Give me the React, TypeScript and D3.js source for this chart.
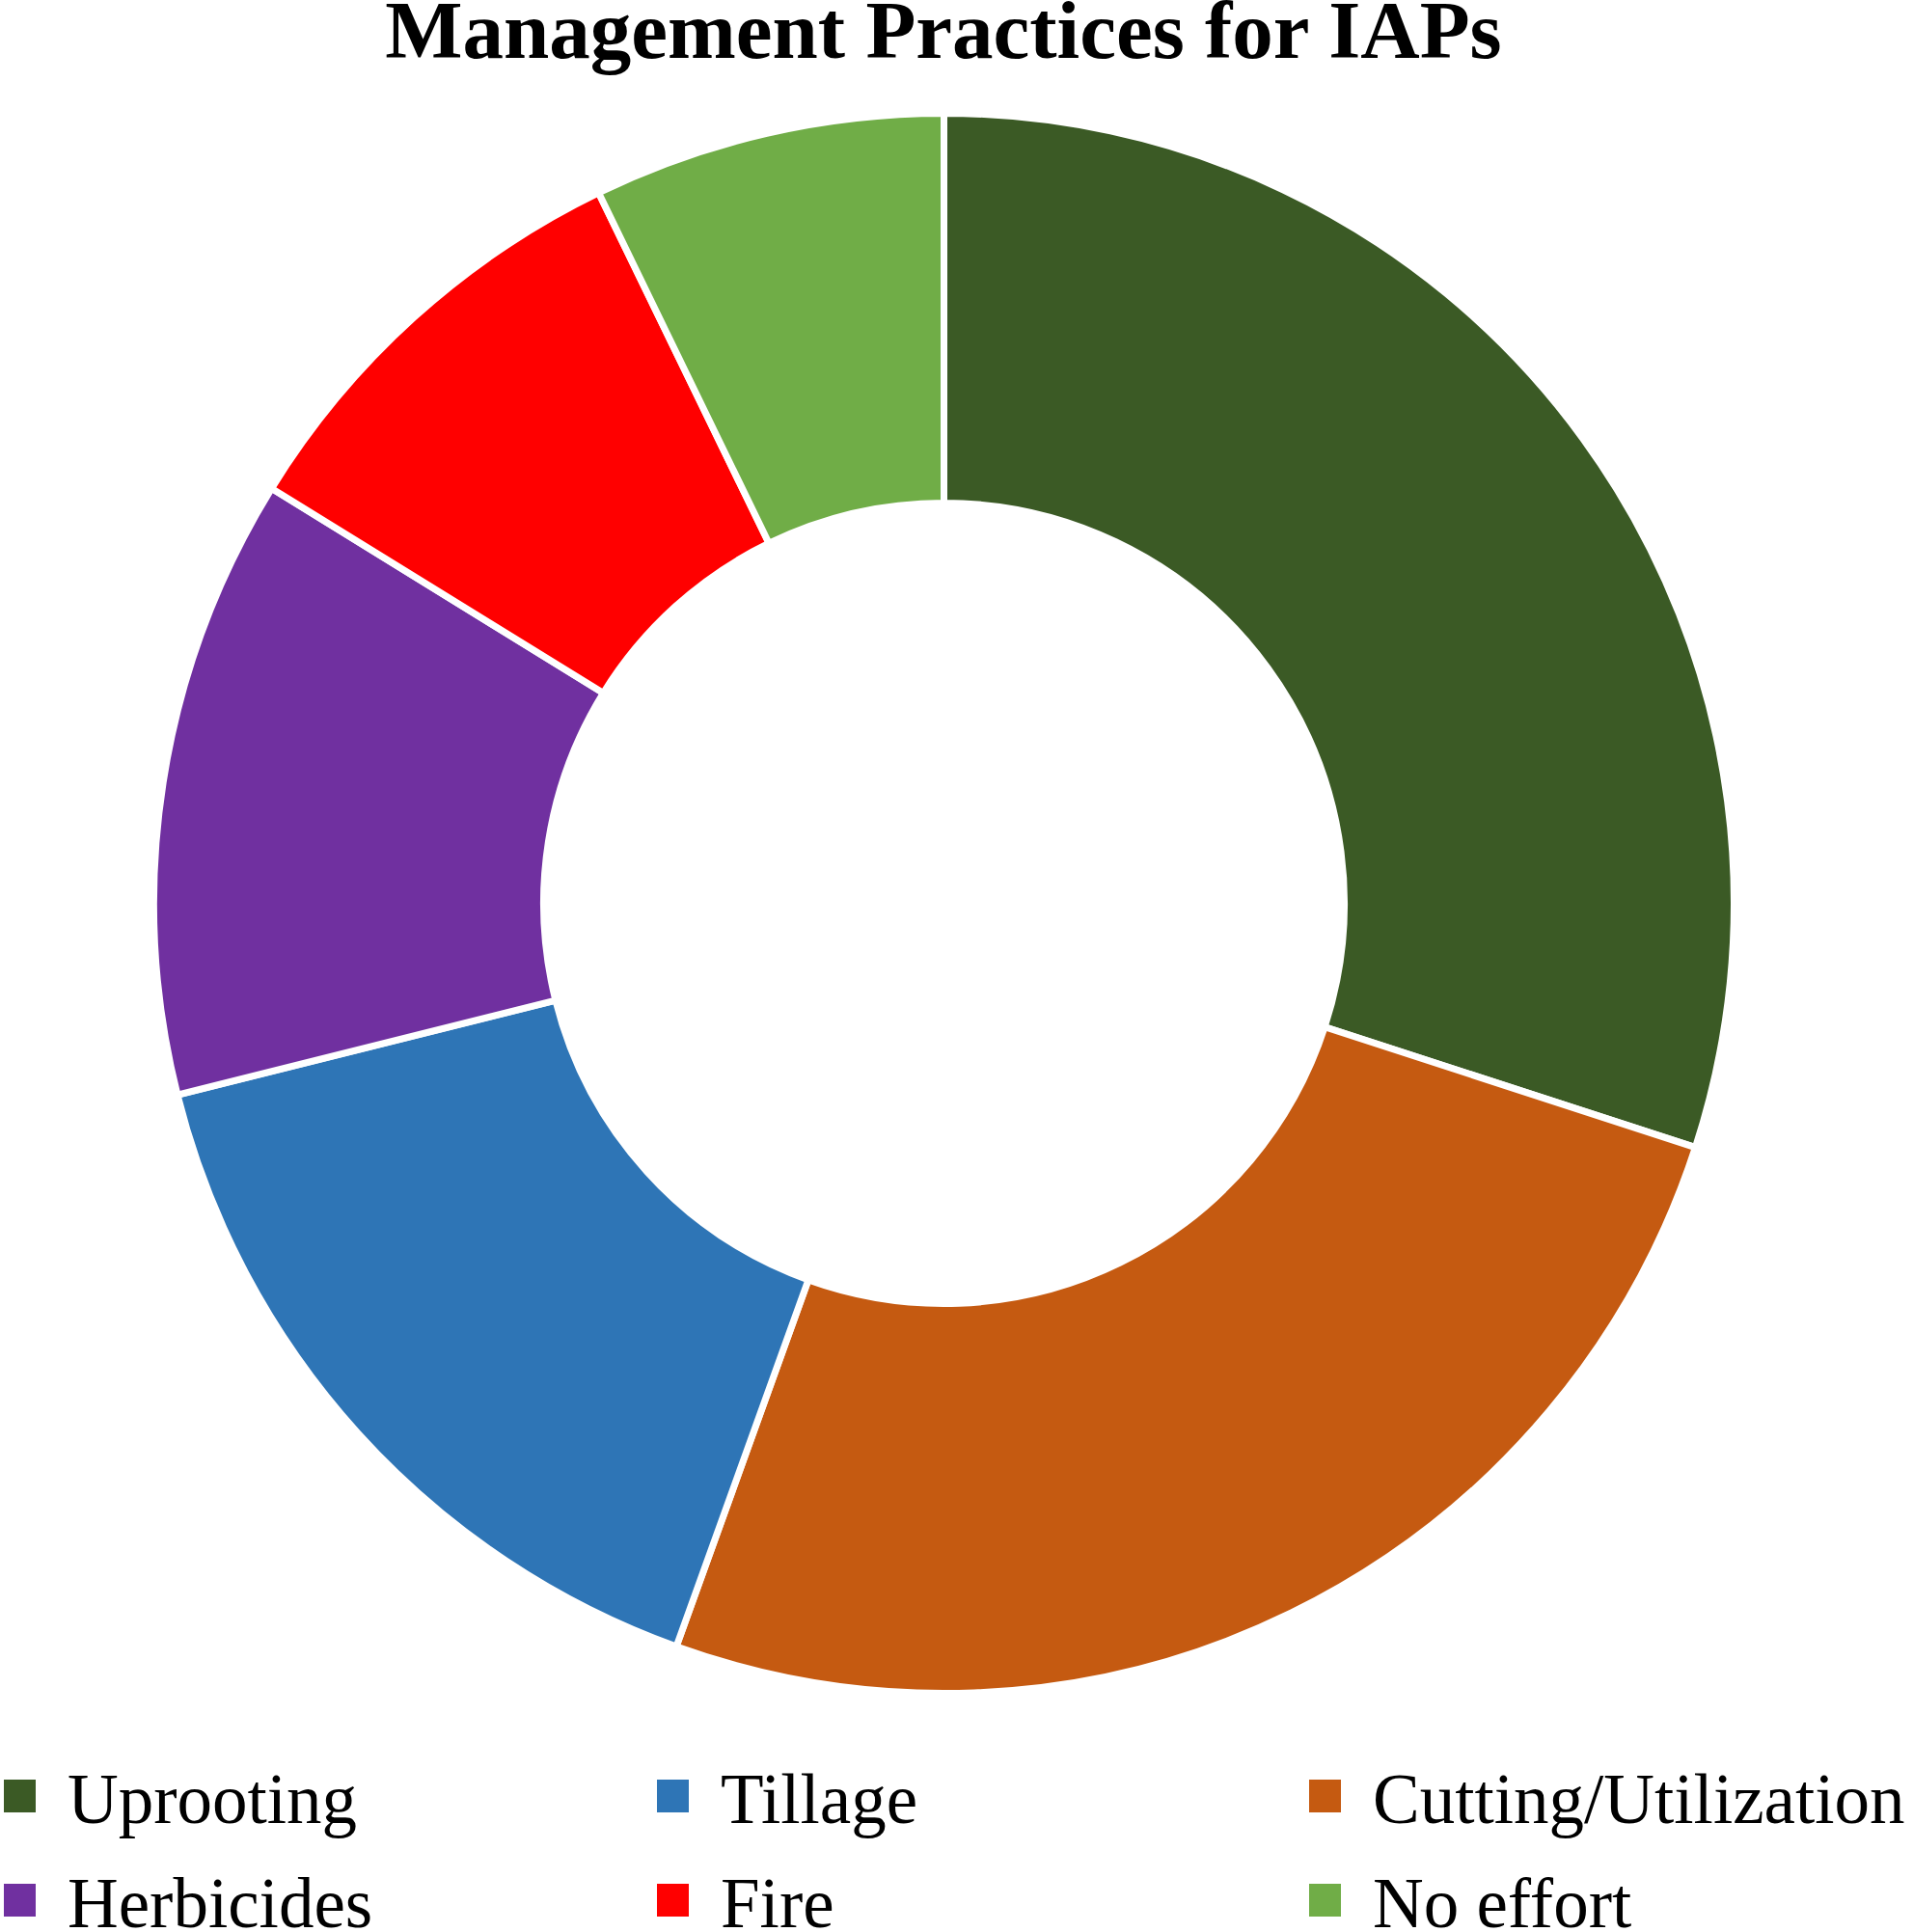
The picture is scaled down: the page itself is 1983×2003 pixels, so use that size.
import { useEffect, useRef } from 'react'
import * as d3 from 'd3'

const practices = ['Uprooting', 'Cutting/Utilization', 'Tillage', 'Herbicides', 'Fire', 'No effort']
const shares = [30.0, 25.5, 15.6, 12.7, 9.0, 7.2]
const colors = ['#3B5A25', '#C55A11', '#2E75B6', '#7030A0', '#FF0000', '#70AD47']
const legendRows = [
  ['Uprooting', 'Tillage', 'Cutting/Utilization'],
  ['Herbicides', 'Fire', 'No effort'],
]
const title = 'Management Practices for IAPs'

function App() {
  const svgRef = useRef<SVGSVGElement>(null)

  useEffect(() => {
    if (!svgRef.current) return
    const width = 1983
    const height = 2003
    const svg = d3.select(svgRef.current)
    svg.selectAll('*').remove()
    svg.attr('width', width).attr('height', height)

    const font = '"Liberation Serif", "Times New Roman", serif'

    svg
      .append('text')
      .attr('x', 978)
      .attr('y', 60)
      .attr('text-anchor', 'middle')
      .attr('font-family', font)
      .attr('font-weight', 'bold')
      .attr('font-size', 85)
      .attr('fill', '#000')
      .text(title)

    const cx = 978.5
    const cy = 936.5
    const outerR = 819
    const innerR = 415

    const data = practices.map((name, i) => ({ name, value: shares[i] }))
    const color = d3.scaleOrdinal<string, string>().domain(practices).range(colors)

    const pie = d3
      .pie<{ name: string; value: number }>()
      .value((d) => d.value)
      .sort(null)
    const arc = d3
      .arc<d3.PieArcDatum<{ name: string; value: number }>>()
      .innerRadius(innerR)
      .outerRadius(outerR)

    const g = svg.append('g').attr('transform', `translate(${cx},${cy})`)
    g.selectAll('path')
      .data(pie(data))
      .enter()
      .append('path')
      .attr('d', arc)
      .attr('fill', (d) => color(d.data.name))
      .attr('stroke', '#fff')
      .attr('stroke-width', 7)
      .attr('stroke-linejoin', 'miter')

    // legend, 3 columns x 2 rows
    const colX = d3.scaleOrdinal<number, number>().domain([0, 1, 2]).range([4, 681, 1357])
    const rowY = d3.scaleOrdinal<number, number>().domain([0, 1]).range([1890, 1998])
    const legend = svg.append('g')
    legendRows.forEach((row, r) => {
      row.forEach((name, c) => {
        const item = legend.append('g').attr('transform', `translate(${colX(c)},${rowY(r)})`)
        item
          .append('rect')
          .attr('x', 0)
          .attr('y', -45)
          .attr('width', 33)
          .attr('height', 34)
          .attr('fill', color(name))
        item
          .append('text')
          .attr('x', 66)
          .attr('y', 0)
          .attr('font-family', font)
          .attr('font-size', 73)
          .attr('fill', '#000')
          .text(name)
      })
    })
  }, [])

  return (
    <div style={{ position: 'absolute', left: 0, top: 0, background: '#fff' }}>
      <svg ref={svgRef} style={{ display: 'block' }}></svg>
    </div>
  )
}

export default App
